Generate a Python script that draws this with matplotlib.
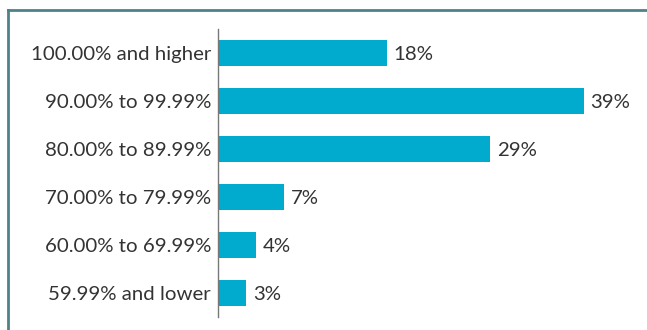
import matplotlib
matplotlib.use("Agg")
import matplotlib.pyplot as plt
from matplotlib.lines import Line2D

categories = ["100.00% and higher", "90.00% to 99.99%", "80.00% to 89.99%",
              "70.00% to 79.99%", "60.00% to 69.99%", "59.99% and lower"]
values = [18, 39, 29, 7, 4, 3]
value_labels = ["18%", "39%", "29%", "7%", "4%", "3%"]

plt.rcParams['font.family'] = ['Lato', 'DejaVu Sans']

fig = plt.figure(figsize=(6.47, 3.30), dpi=100)
ax = fig.add_axes([218/647, 13/330, 422/647, 288/330])

ypos = list(range(len(categories)))
ax.barh(ypos, values, height=0.56, color="#00ABCD")
ax.set_ylim(len(categories) - 0.5, -0.5)
ax.set_xlim(0, 45)
ax.set_yticks(ypos)
ax.set_yticklabels(categories, fontsize=14.7, color="#333333")
ax.tick_params(axis='y', length=0, pad=5)
for lbl in ax.get_yticklabels():
    lbl.set_va("center_baseline")
ax.set_xticks([])
for s in ["top", "right", "bottom"]:
    ax.spines[s].set_visible(False)
ax.spines["left"].set_color("#777777")
ax.spines["left"].set_linewidth(1.0)

for y, v, t in zip(ypos, values, value_labels):
    ax.annotate(t, (v, y), xytext=(5, 0), textcoords="offset points",
                va="center_baseline", ha="left", fontsize=14.7, color="#333333")

# frame lines (top and left)
fig.add_artist(Line2D([7.5/647, 1.0], [1 - 9.5/330, 1 - 9.5/330],
                      transform=fig.transFigure, color="#4E8288", linewidth=2))
fig.add_artist(Line2D([7.5/647, 7.5/647], [0, 1 - 9.5/330],
                      transform=fig.transFigure, color="#4E8288", linewidth=2))

fig.savefig("out.png", dpi=100)
